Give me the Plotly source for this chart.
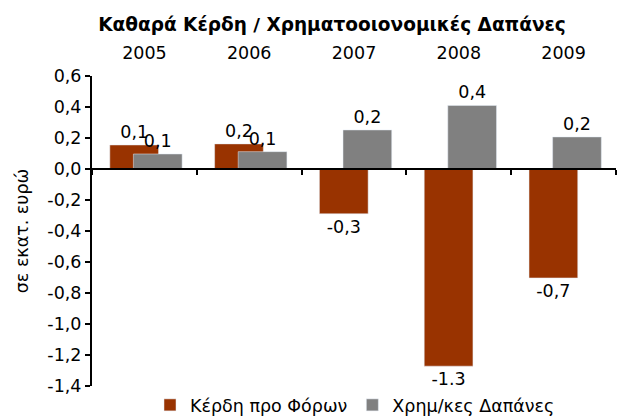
import plotly.graph_objects as go

years = ["2005", "2006", "2007", "2008", "2009"]
kerdi = [0.155, 0.162, -0.289, -1.272, -0.703]
dapanes = [0.097, 0.112, 0.252, 0.410, 0.207]
kerdi_labels = ["0,1", "0,2", "-0,3", "-1.3", "-0,7"]
dapanes_labels = ["0,1", "0,1", "0,2", "0,4", "0,2"]
ytick_vals = [0.6, 0.4, 0.2, 0.0, -0.2, -0.4, -0.6, -0.8, -1.0, -1.2, -1.4]
ytick_text = ["0,6", "0,4", "0,2", "0,0", "-0,2", "-0,4", "-0,6", "-0,8", "-1,0", "-1,2", "-1,4"]

FONT = "DejaVu Sans, Verdana, sans-serif"
FS = 17.5
BROWN = "#993300"
GRAY = "#808080"

ML, MR, MT, MB = 92, 1, 76, 30
PW = 617 - ML - MR
PH = 416 - MT - MB

fig = go.Figure()
fig.add_trace(go.Bar(
    x=years, y=kerdi, name="Κέρδη προ Φόρων", marker_color=BROWN,
    width=0.465, offset=-0.33, text=kerdi_labels, textposition="outside",
    textfont=dict(size=FS, color="black"), cliponaxis=False,
))
fig.add_trace(go.Bar(
    x=years, y=dapanes, name="Χρημ/κες Δαπάνες", marker_color=GRAY,
    width=0.465, offset=-0.105, text=dapanes_labels, textposition="outside",
    textfont=dict(size=FS, color="black"), cliponaxis=False,
))
# invisible trace to carry the top year labels axis
fig.add_trace(go.Scatter(
    x=years, y=dapanes, xaxis="x2", mode="markers", marker=dict(opacity=0),
    showlegend=False, hoverinfo="skip",
))

fig.update_layout(
    width=617, height=416,
    margin=dict(l=ML, r=MR, t=MT, b=MB, autoexpand=False),
    paper_bgcolor="white", plot_bgcolor="white",
    font=dict(family=FONT, size=FS, color="black"),
    barmode="overlay",
    title=dict(text="<b>Καθαρά Κέρδη / Χρηματοοιονομικές Δαπάνες</b>",
               x=332/617, xanchor="center", y=1-25/416, yanchor="middle",
               font=dict(size=18.5, family=FONT)),
    xaxis=dict(type="category", range=[-0.5, 4.5], anchor="free", position=0.7,
               showline=True, linecolor="black", linewidth=2,
               ticks="outside", ticklen=5, tickwidth=1.5, tickcolor="black",
               tickson="boundaries", showticklabels=False, showgrid=False,
               zeroline=False, automargin=False),
    xaxis2=dict(type="category", range=[-0.5, 4.5], overlaying="x", side="top",
                anchor="y", showline=False, ticks="outside", ticklen=9,
                tickcolor="rgba(0,0,0,0)", showgrid=False, zeroline=False,
                tickfont=dict(size=FS), automargin=False),
    yaxis=dict(range=[-1.4, 0.6], tickvals=ytick_vals, ticktext=ytick_text,
               showline=True, linecolor="black", linewidth=2,
               ticks="outside", ticklen=5, tickwidth=1.5, tickcolor="black",
               showgrid=False, zeroline=False, automargin=False,
               title=dict(text="σε εκατ. ευρώ", standoff=14, font=dict(size=FS))),
    legend=dict(orientation="h", x=(150 - ML) / PW, xanchor="left", y=-19 / PH,
                yanchor="middle", font=dict(size=FS), itemwidth=30,
                bgcolor="rgba(0,0,0,0)"),
    showlegend=True,
)

fig.write_html(
    "out.html",
    config={"displayModeBar": False},
    post_script="document.body.style.margin='0';document.body.style.overflow='hidden';",
)
